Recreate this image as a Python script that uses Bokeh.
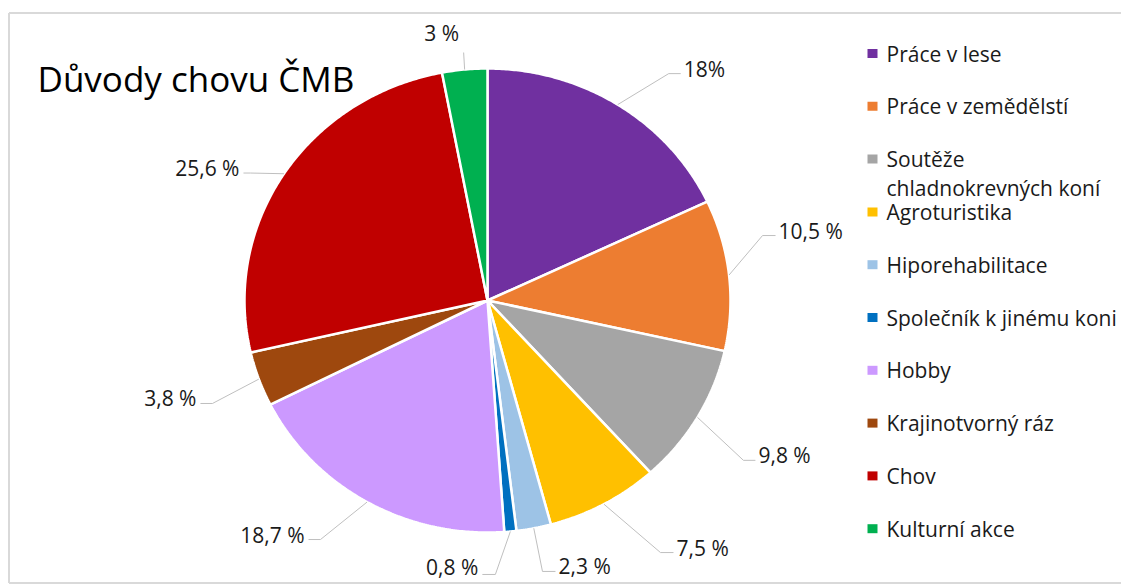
import numpy as np
from bokeh.plotting import figure
from bokeh.models import Range1d, ColumnDataSource
from bokeh.core.properties import value
from bokeh.embed import file_html
from bokeh.resources import INLINE

# ---------------- data ----------------
title = "Důvody chovu ČMB"
categories = [
    "Práce v lese",
    "Práce v zemědělstí",
    "Soutěže\nchladnokrevných koní",
    "Agroturistika",
    "Hiporehabilitace",
    "Společník k jinému koni",
    "Hobby",
    "Krajinotvorný ráz",
    "Chov",
    "Kulturní akce",
]
shares = [18, 10.5, 9.8, 7.5, 2.3, 0.8, 18.7, 3.8, 25.6, 3]
value_labels = ["18%", "10,5 %", "9,8 %", "7,5 %", "2,3 %", "0,8 %",
                "18,7 %", "3,8 %", "25,6 %", "3 %"]
colors = ["#7030A0", "#ED7D31", "#A5A5A5", "#FFC000", "#9DC3E6",
          "#0070C0", "#CC99FF", "#9E480E", "#C00000", "#00B050"]

# ---------------- layout (pixels) ----------------
W, H = 1121, 584
cx, cy, rx, ry = 487, 300, 243, 232
FONT = value("Open Sans")

# leader elbow offsets from the rim point, and side of the label
elbow_off = [(51, -31), (33.5, -39.5), (46, 43), (56.6, 48.4), (8.7, 43.2),
             (-15, 43), (-46.6, 37.5), (-46.4, 24.4), (-33.5, -0.7), (-1, -17)]
side = ["r", "r", "r", "r", "r", "l", "l", "l", "l", "t"]
arm = [12, 13, 12, 13, 13, 13, 12, 12, 7, 0]
text_dy = [-5, -5, -5, -5, -5, -7, -5, -5, -5, -20]

p = figure(width=W, height=H, x_range=Range1d(0, W), y_range=Range1d(H, 0),
           output_backend="svg", toolbar_location=None, min_border=0,
           x_axis_location=None, y_axis_location=None)
p.grid.visible = False
p.outline_line_color = None
p.background_fill_color = "white"
p.border_fill_color = "white"

# chart border
p.line([8.5, 8.5], [12.5, 582.5], line_color="#d9d9d9", line_width=2)
p.line([8.5, W], [12.5, 12.5], line_color="#d9d9d9", line_width=2)
p.line([8.5, W], [582.5, 582.5], line_color="#d9d9d9", line_width=2)

# pie slices
total = float(sum(shares))
cum = np.concatenate([[0.0], np.cumsum(shares)]) / total * 2 * np.pi
xs, ys = [], []
for a0, a1 in zip(cum[:-1], cum[1:]):
    t = np.linspace(a0, a1, max(int((a1 - a0) * 120), 6))
    xs.append([cx] + list(cx + rx * np.sin(t)))
    ys.append([cy] + list(cy - ry * np.cos(t)))
p.patches(xs, ys, fill_color=colors, line_color="white", line_width=2.5)

# data labels with leader lines
mid = (cum[:-1] + cum[1:]) / 2
lx, ly, tx, ty, ta = [], [], [], [], []
for i, a in enumerate(mid):
    px, py = cx + rx * np.sin(a), cy - ry * np.cos(a)
    ex, ey = px + elbow_off[i][0], py + elbow_off[i][1]
    if side[i] == "r":
        fx = ex + arm[i]
        lx.append([px, ex, fx]); ly.append([py, ey, ey])
        tx.append(fx + 3); ta.append("left")
    elif side[i] == "l":
        fx = ex - arm[i]
        lx.append([px, ex, fx]); ly.append([py, ey, ey])
        tx.append(fx - 4); ta.append("right")
    else:
        lx.append([px, ex]); ly.append([py, ey])
        tx.append(ex - 22); ta.append("center")
    ty.append(ey + text_dy[i])
p.multi_line(lx, ly, line_color="#bfbfbf", line_width=1)
lab = ColumnDataSource(dict(x=tx, y=ty, text=value_labels, align=ta))
p.text("x", "y", text="text", text_align="align", source=lab, text_baseline="middle",
       text_font=FONT, text_font_size="21px", text_color="#1a1a1a")

# title
p.text(x=[37], y=[78], text=[title], text_baseline="middle", text_align="left",
       text_font=FONT, text_font_size="35px", text_color="#000000")

# legend
leg_y = [53 + i * 52.8 for i in range(len(categories))]
p.rect(x=[872] * len(categories), y=leg_y, width=10, height=9,
       fill_color=colors, line_color=None)
gx, gy, gt = [], [], []
for name, y in zip(categories, leg_y):
    for k, line in enumerate(name.split("\n")):
        gx.append(886); gy.append(y + k * 29); gt.append(line)
p.text(x=gx, y=gy, text=gt, text_baseline="middle", text_align="left",
       text_font=FONT, text_font_size="21px", text_color="#1a1a1a")

open("out.html", "w").write(file_html(p, INLINE))
